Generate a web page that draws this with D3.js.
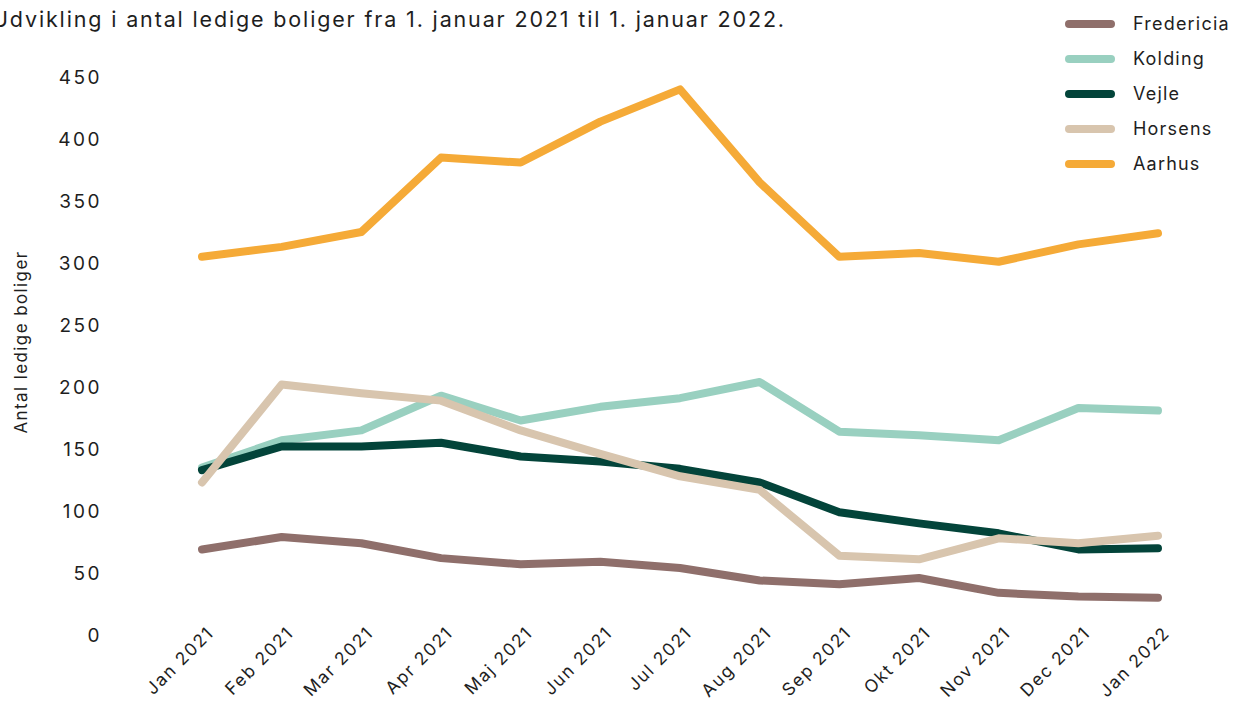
<!DOCTYPE html>
<html>
<head>
<meta charset="utf-8">
<script src="https://cdn.jsdelivr.net/npm/d3@7"></script>
<style>
  body { margin: 0; background: #fff; overflow: hidden; }
  text { font-family: "Inter", "Lato", sans-serif; fill: #1e1e1e; }
</style>
</head>
<body>
<svg id="chart"></svg>
<script>
const months = ["Jan 2021","Feb 2021","Mar 2021","Apr 2021","Maj 2021","Jun 2021","Jul 2021",
                "Aug 2021","Sep 2021","Okt 2021","Nov 2021","Dec 2021","Jan 2022"]
const cities = ["Fredericia","Kolding","Vejle","Horsens","Aarhus"]
const fredericia = [69, 79, 74, 62, 57, 59, 54, 44, 41, 46, 34, 31, 30]
const kolding    = [135, 157, 165, 193, 173, 184, 191, 204, 164, 161, 157, 183, 181]
const vejle      = [133, 152, 152, 155, 144, 140, 134, 123, 99, 90, 82, 69, 70]
const horsens    = [123, 202, 195, 189, 165, 146, 128, 117, 64, 61, 78, 74, 80]
const aarhus     = [305, 313, 325, 385, 381, 414, 440, 365, 305, 308, 301, 315, 324]
const yTicks = [0, 50, 100, 150, 200, 250, 300, 350, 400, 450]
const colors = ["#8f6f6b", "#99d0c0", "#03443a", "#d8c5ae", "#f5aa37"]

const series = [fredericia, kolding, vejle, horsens, aarhus]
  .map((values, i) => ({name: cities[i], values}))

const width = 1243, height = 704
const svg = d3.select("#chart").attr("width", width).attr("height", height)

let x = d3.scalePoint().domain(months).range([202, 1158])
let y = d3.scaleLinear().domain([0, 450]).range([635, 77])
let color = d3.scaleOrdinal().domain(cities).range(colors)

// title (starts slightly off the left edge, as in the original)
svg.append("text")
  .attr("x", -8).attr("y", 27)
  .style("font-size", "21.5px")
  .style("letter-spacing", "1.85px")
  .text("Udvikling i antal ledige boliger fra 1. januar 2021 til 1. januar 2022.")

// y axis labels
svg.append("g").selectAll("text")
  .data(yTicks)
  .join("text")
  .attr("x", 102)
  .attr("y", d => y(d))
  .attr("dy", "0.35em")
  .attr("text-anchor", "end")
  .style("font-size", "19px")
  .style("letter-spacing", "2.5px")
  .text(d => d)

svg.append("text")
  .attr("transform", "translate(27,342) rotate(-90)")
  .attr("text-anchor", "middle")
  .style("font-size", "17px")
  .style("letter-spacing", "1.4px")
  .text("Antal ledige boliger")

// x axis labels
svg.append("g").selectAll("text")
  .data(months)
  .join("text")
  .attr("transform", d => `translate(${x(d) + 13},${634}) rotate(-45)`)
  .attr("text-anchor", "end")
  .style("font-size", "17.5px")
  .style("letter-spacing", "1.6px")
  .text(d => d)

// lines
let line = d3.line()
  .x((d, i) => x(months[i]))
  .y(d => y(d))

svg.append("g").selectAll("path")
  .data(series)
  .join("path")
  .attr("d", d => line(d.values))
  .attr("fill", "none")
  .attr("stroke", d => color(d.name))
  .attr("stroke-width", 8)
  .attr("stroke-linecap", "round")
  .attr("stroke-linejoin", "round")

// legend
const legend = svg.selectAll(".legend")
  .data(cities)
  .join("g")
  .attr("class", "legend")
  .attr("transform", (d, i) => `translate(1069,${24 + i * 35})`)

legend.append("line")
  .attr("x1", 0).attr("x2", 42)
  .attr("stroke", d => color(d))
  .attr("stroke-width", 8)
  .attr("stroke-linecap", "round")

legend.append("text")
  .attr("x", 64)
  .attr("dy", "0.35em")
  .style("font-size", "18px")
  .style("letter-spacing", "1.2px")
  .text(d => d)
</script>
</body>
</html>
